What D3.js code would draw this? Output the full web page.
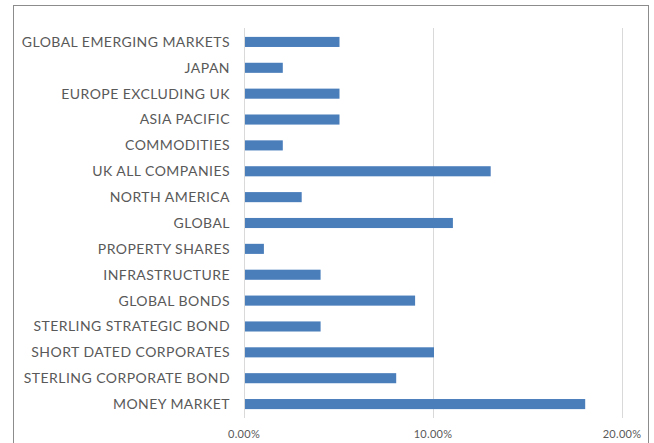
<!DOCTYPE html>
<html>
<head>
<meta charset="utf-8">
<script src="https://cdn.jsdelivr.net/npm/d3@7"></script>
<style>
body{margin:0;background:#fff;}
svg text{font-family:Lato,"Open Sans",sans-serif;fill:#595959;}
</style>
</head>
<body>
<div id="chart"></div>
<script>
var categories=["GLOBAL EMERGING MARKETS","JAPAN","EUROPE EXCLUDING UK","ASIA PACIFIC","COMMODITIES","UK ALL COMPANIES","NORTH AMERICA","GLOBAL","PROPERTY SHARES","INFRASTRUCTURE","GLOBAL BONDS","STERLING STRATEGIC BOND","SHORT DATED CORPORATES","STERLING CORPORATE BOND","MONEY MARKET"];
var values=[0.05,0.02,0.05,0.05,0.02,0.13,0.03,0.11,0.01,0.04,0.09,0.04,0.10,0.08,0.18];
var tickValues=[0,0.10,0.20];

var width=654,height=443;
var svg=d3.select("#chart").append("svg")
	.attr("width",width)
	.attr("height",height);

// outer frame
svg.append("rect")
	.attr("x",13.5).attr("y",5.5)
	.attr("width",635).attr("height",460)
	.style("fill","none")
	.style("stroke","#8c8c8c")
	.style("stroke-width","1px");

var x=d3.scaleLinear().domain([0,0.20]).range([244,622]);
var y=d3.scaleBand().domain(categories).range([29,417]).paddingInner(0.61).paddingOuter(0.305);

var data=categories.map(function(c,i){return {cat:c,value:values[i]};});

// gridlines
svg.selectAll("line.grid")
	.data(tickValues)
	.enter()
	.append("line")
	.attr("class","grid")
	.attr("x1",function(d){return Math.round(x(d))+0.5;})
	.attr("x2",function(d){return Math.round(x(d))+0.5;})
	.attr("y1",28)
	.attr("y2",418)
	.style("stroke","#d9d9d9")
	.style("stroke-width","1px");

svg.selectAll("rect.bar")
	.data(data)
	.enter()
	.append("rect")
	.attr("class","bar")
	.attr("x",x(0)+1)
	.attr("y",function(d){return y(d.cat);})
	.attr("width",function(d){return x(d.value)-x(0);})
	.attr("height",y.bandwidth())
	.style("fill","#4a7ebb");

svg.selectAll("text.cat")
	.data(categories)
	.enter()
	.append("text")
	.attr("class","cat")
	.attr("x",230)
	.attr("y",function(d){return y(d)+y.bandwidth()/2;})
	.attr("dy","0.35em")
	.style("text-anchor","end")
	.style("font-size","14px")
	.style("letter-spacing","0.45px")
	.text(function(d){return d;});

var fmt=d3.format(".2%");
svg.selectAll("text.tick")
	.data(tickValues)
	.enter()
	.append("text")
	.attr("class","tick")
	.attr("x",function(d){return x(d);})
	.attr("y",434)
	.attr("dy","0.35em")
	.style("text-anchor","middle")
	.style("font-size","11px")
	.style("letter-spacing","0.3px")
	.text(function(d){return fmt(d);});
</script>
</body>
</html>
